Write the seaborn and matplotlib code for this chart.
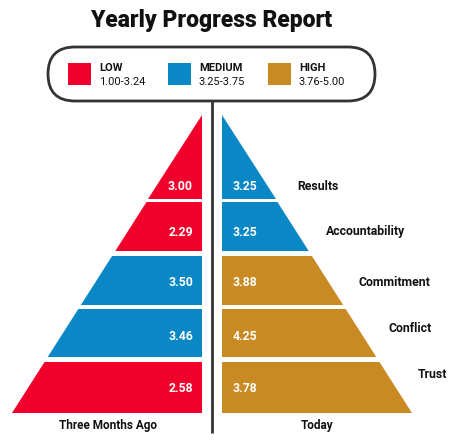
import matplotlib
matplotlib.use("Agg")
import matplotlib.pyplot as plt
from matplotlib.patches import Polygon, FancyBboxPatch, Rectangle
import seaborn as sns

sns.set_theme(style="white")
plt.rcParams['font.family'] = ['Roboto', 'DejaVu Sans']

# data
categories = ["Results", "Accountability", "Commitment", "Conflict", "Trust"]
three_months_ago = [3.00, 2.29, 3.50, 3.46, 2.58]
today = [3.25, 3.25, 3.88, 4.25, 3.78]
level_names = ["LOW", "MEDIUM", "HIGH"]
level_ranges = ["1.00-3.24", "3.25-3.75", "3.76-5.00"]
level_upper = [3.24, 3.75, 5.00]
palette = sns.color_palette(["#F0002B", "#0A88C5", "#C98A23"])

# layout (pixels, y down)
W, H = 456, 445
APEX_Y, BASE_Y, HALF_W = 115, 413, 190
LEFT_X, RIGHT_X, MID_X = 202, 222, 212
band_top = [115, 202, 256, 309, 362]
band_bot = [199, 251, 305, 357, 413]
value_y = [186, 232, 283, 336, 389]
cat_y = [186, 231, 282, 329, 375]


def level_of(v):
    for i, up in enumerate(level_upper):
        if v <= up:
            return i
    return len(level_upper) - 1


def spread(y):
    return (y - APEX_Y) / (BASE_Y - APEX_Y) * HALF_W


fig = plt.figure(figsize=(W / 100, H / 100), dpi=100)
ax = fig.add_axes([0, 0, 1, 1])
ax.set_xlim(0, W)
ax.set_ylim(H, 0)
ax.axis("off")

# pyramids
for i, cat in enumerate(categories):
    t, b = band_top[i], band_bot[i]
    c_left = palette[level_of(three_months_ago[i])]
    c_right = palette[level_of(today[i])]
    ax.add_patch(Polygon([(LEFT_X, t), (LEFT_X, b), (LEFT_X - spread(b), b),
                          (LEFT_X - spread(t), t)], closed=True, fc=c_left, ec="none"))
    ax.add_patch(Polygon([(RIGHT_X, t), (RIGHT_X, b), (RIGHT_X + spread(b), b),
                          (RIGHT_X + spread(t), t)], closed=True, fc=c_right, ec="none"))
    ax.text(LEFT_X - 9, value_y[i], f"{three_months_ago[i]:.2f}", color="white",
            fontsize=8.8, fontweight="bold", ha="right", va="center")
    ax.text(RIGHT_X + 11, value_y[i], f"{today[i]:.2f}", color="white",
            fontsize=8.8, fontweight="bold", ha="left", va="center")
    ax.text(RIGHT_X + spread(cat_y[i]) + 30, cat_y[i], cat, color="#111111",
            fontsize=8.8, fontweight="bold", ha="left", va="center")

# divider
ax.plot([MID_X, MID_X], [101, 433], color="#333333", lw=2, solid_capstyle="butt")

# legend box
ax.add_patch(FancyBboxPatch((48, 47), 327, 54, boxstyle="round,pad=0,rounding_size=27",
                            fc="white", ec="#333333", lw=2))
for j, name in enumerate(level_names):
    x0 = 68 + j * 100
    ax.add_patch(Rectangle((x0, 63), 23, 22, fc=palette[j], ec="none"))
    ax.text(x0 + 31, 68, name, fontsize=8, fontweight="bold", color="#111111",
            ha="left", va="center")
    ax.text(x0 + 31, 82, level_ranges[j], fontsize=8, color="#111111",
            ha="left", va="center")

ax.text(MID_X, 20, "Yearly Progress Report", fontsize=16.5, fontweight="black",
        color="#111111", ha="center", va="center")
ax.text(108, 426, "Three Months Ago", fontsize=8.5, fontweight="bold",
        color="#111111", ha="center", va="center")
ax.text(317, 426, "Today", fontsize=8.5, fontweight="bold",
        color="#111111", ha="center", va="center")

fig.savefig("out.png", dpi=100)
